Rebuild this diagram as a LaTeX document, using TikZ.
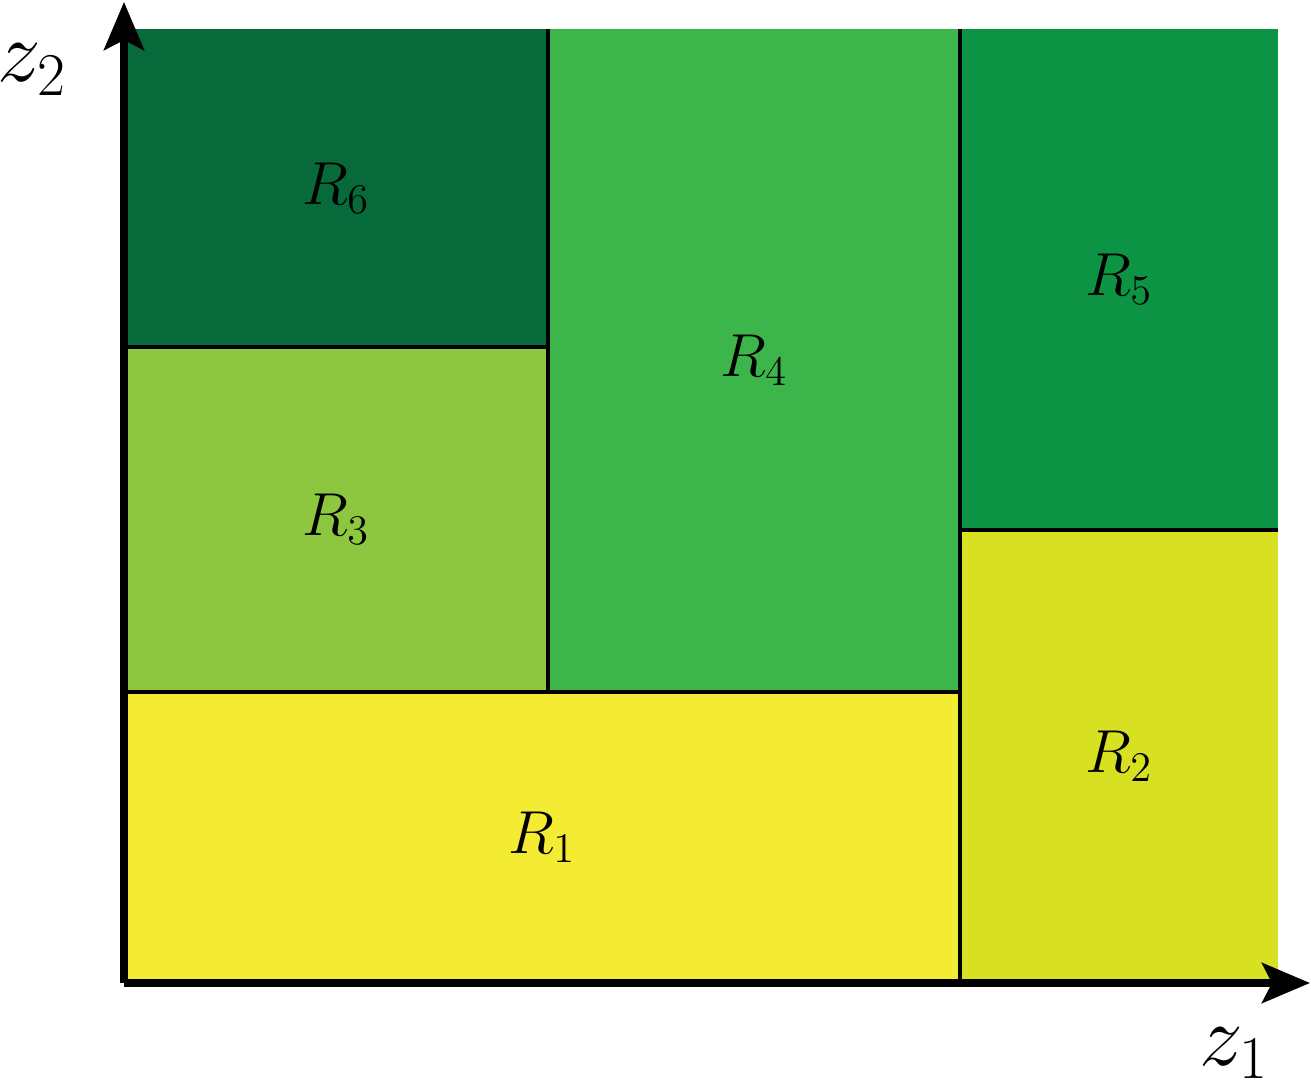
\documentclass[tikz,border=0pt]{standalone}
\usepackage{amsmath}
\usepackage{amssymb}
\usepackage[dvipsnames]{xcolor}
\usepackage{tikz}
\usetikzlibrary{arrows.meta}

\definecolor{corR1}{HTML}{F4EC33}
\definecolor{corR2}{HTML}{D7E021}
\definecolor{corR3}{HTML}{8DC63F}
\definecolor{corR4}{HTML}{3CB54A}
\definecolor{corR5}{HTML}{0C9444}
\definecolor{corR6}{HTML}{066A3A}

\begin{document}
\begin{tikzpicture}[scale=1,
    regiao/.style={inner sep=0pt, outer sep=0pt, font=\fontsize{17}{20}\selectfont},
    eixo/.style={line width=2.2pt, -{Stealth[length=4.8mm, width=4mm, inset=1mm]}},
    rotulo/.style={anchor=base, inner sep=0pt, font=\fontsize{23}{28}\selectfont},
    borda/.style={line width=1.1pt}]
    \useasboundingbox (0,0) rectangle (13.11,10.88);
    % regiões coloridas
    \node[regiao, fill=corR1, minimum width=8.36cm, minimum height=2.91cm] (R1) at (5.42,2.505) {$R_1$};
    \node[regiao, fill=corR2, minimum width=3.18cm, minimum height=4.53cm] (R2) at (11.19,3.315) {$R_2$};
    \node[regiao, fill=corR3, minimum width=4.24cm, minimum height=3.45cm] (R3) at (3.36,5.685) {$R_3$};
    \node[regiao, fill=corR4, minimum width=4.12cm, minimum height=6.63cm] (R4) at (7.54,7.275) {$R_4$};
    \node[regiao, fill=corR5, minimum width=3.18cm, minimum height=5.01cm] (R5) at (11.19,8.085) {$R_5$};
    \node[regiao, fill=corR6, minimum width=4.24cm, minimum height=3.18cm] (R6) at (3.36,9.0) {$R_6$};
    % linhas de corte
    \draw[borda] (R3.north west) -- (R3.north east);
    \draw[borda] (R4.north west) -- (R4.south west);
    \draw[borda] (R1.north west) -- (R1.north east);
    \draw[borda] (R5.north west) -- (R2.south west);
    \draw[borda] (R5.south west) -- (R5.south east);
    % eixos
    \coordinate (O) at (1.24,1.05);
    \coordinate (topo) at (1.24,10.86);
    \coordinate (dir) at (13.10,1.05);
    \draw[eixo] (O) -- (topo);
    \draw[eixo] (O) -- (dir);
    \node[rotulo] (z2) at (0.32,10.06) {$z_2$};
    \node[rotulo] (z1) at (12.34,0.23) {$z_1$};
\end{tikzpicture}
\end{document}
